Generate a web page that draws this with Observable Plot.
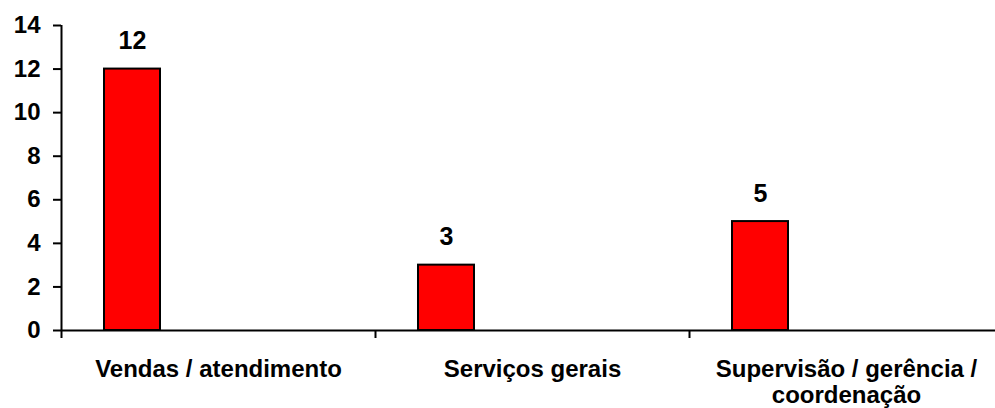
<!DOCTYPE html>
<html>
<head>
<meta charset="utf-8">
<script src="https://cdn.jsdelivr.net/npm/d3@7"></script>
<script src="https://cdn.jsdelivr.net/npm/@observablehq/plot@0.6"></script>
<style>
  html, body { margin: 0; padding: 0; background: #fff; overflow: hidden; }
</style>
</head>
<body>
<div id="chart"></div>
<script>
// Occupation categories and their counts
const categories = ["Vendas / atendimento", "Serviços gerais", "Supervisão / gerência / coordenação"];
const tickLabels = ["Vendas / atendimento", "Serviços gerais", "Supervisão / gerência /\ncoordenação"];
const values = [12, 3, 5];
const yTicks = [0, 2, 4, 6, 8, 10, 12, 14];

const data = categories.map((category, i) => ({category, value: values[i]}));

// Each category gets an equal band; the bar sits toward the left of its band
const xRange = [61, 1003];
const band = (xRange[1] - xRange[0]) / categories.length;
const barLeft = 43;
const barRight = 215;
const font = "'Liberation Sans', Arial, Helvetica, sans-serif";

const chart = Plot.plot({
  width: 995,
  height: 408,
  marginTop: 25,
  marginBottom: 78,
  marginLeft: 61,
  marginRight: 0,
  style: {fontFamily: font, fontWeight: "bold", color: "#000", background: "#fff", overflow: "visible", maxWidth: "none"},
  x: {domain: categories, range: xRange, padding: 0, label: null},
  y: {domain: [0, 14], label: null},
  marks: [
    Plot.barY(data, {
      x: "category", y: "value",
      fill: "#ff0000", stroke: "#000", strokeWidth: 2,
      insetLeft: barLeft, insetRight: barRight
    }),
    Plot.ruleY([0], {stroke: "#000", strokeWidth: 2}),
    Plot.ruleX([categories[0]], {dx: -band / 2, stroke: "#000", strokeWidth: 2}),
    Plot.axisY({ticks: yTicks, tickSize: 8, tickPadding: 13, fontSize: 24, fontWeight: "bold", strokeWidth: 2, label: null}),
    Plot.axisX({tickSize: 8, text: null, dx: -band / 2, strokeWidth: 2, label: null}),
    // Category labels below the axis, wrapped onto two lines where needed
    Plot.text(categories, {
      x: d => d, text: d => tickLabels[categories.indexOf(d)],
      frameAnchor: "bottom", lineAnchor: "top", dy: 27, lineHeight: 1.12,
      fontSize: 24, fontWeight: "bold", fill: "#000"
    }),
    Plot.text(data, {
      x: "category", y: "value", text: d => String(d.value),
      dx: -band / 2 + (barLeft + (band - barRight)) / 2, dy: -20,
      lineAnchor: "bottom", fontSize: 25, fontWeight: "bold", fill: "#000"
    })
  ]
});

document.getElementById("chart").append(chart);
</script>
</body>
</html>
